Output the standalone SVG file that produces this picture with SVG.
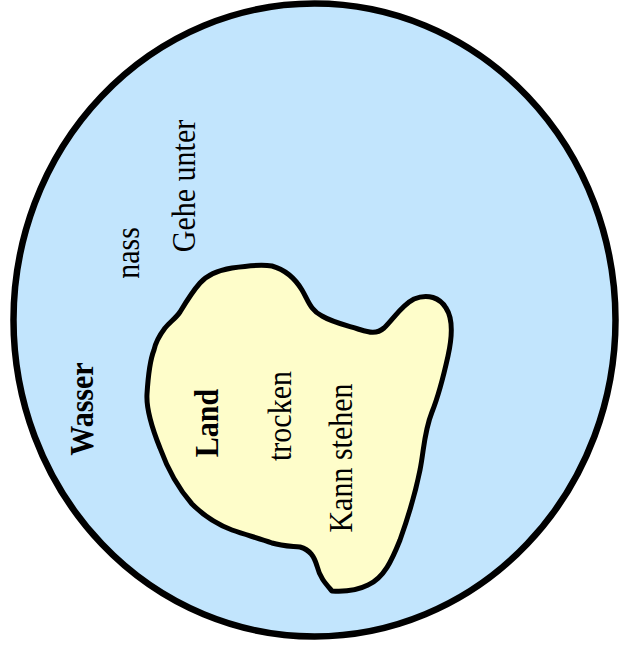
<svg xmlns="http://www.w3.org/2000/svg" width="621" height="646" viewBox="0 0 621 646">
<style>
.shape{stroke:#000;stroke-width:5;stroke-linejoin:round}
.t{font-family:"Liberation Serif","Times New Roman",serif;font-size:30px;fill:#000;text-anchor:middle}
.b{font-weight:bold}
</style>
<rect width="621" height="646" fill="#fff"/>
<g id="wasser">
<ellipse class="shape" cx="314.5" cy="320" rx="301" ry="316.5" fill="#c2e5fd" style="stroke-width:6.5"/>
<text class="t b" transform="translate(93,409) rotate(-90) scale(1,1.12)">Wasser</text>
<text class="t" transform="translate(139,253) rotate(-90) scale(1,1.12)">nass</text>
<text class="t" transform="translate(195,186) rotate(-90) scale(1,1.12)">Gehe unter</text>
</g>
<g id="land">
<path class="shape" fill="#fefdca" d="M165,328 C170,322 176,318 180,312 C186,302 192,292 200,283 C208,274 220,270 232,268 C245,266 260,264 272,266 C286,270 296,280 302,290 C308,300 310,310 322,316 C332,322 345,325 358,329 C368,332 376,335 384,328 C394,318 402,305 414,299 C428,293 440,298 446,308 C454,320 452,338 448,356 C444,374 440,392 432,412 C424,432 424,450 420,470 C416,490 410,512 400,540 C392,560 384,578 368,585 C358,590 346,592 332,591 C326,584 320,578 317,566 C314,556 310,550 300,547 C290,546 282,546 272,543 C258,538 246,535 232,530 C216,524 204,516 192,504 C178,488 168,470 160,448 C152,428 146,410 147,394 C148,378 150,360 154,350 C156,340 162,332 165,328 Z"/>
<text class="t b" transform="translate(218,423) rotate(-90) scale(1,1.12)">Land</text>
<text class="t" transform="translate(291,416) rotate(-90) scale(1,1.12)">trocken</text>
<text class="t" transform="translate(352,458) rotate(-90) scale(1,1.12)">Kann stehen</text>
</g>
<g id="connectors"/>
</svg>
